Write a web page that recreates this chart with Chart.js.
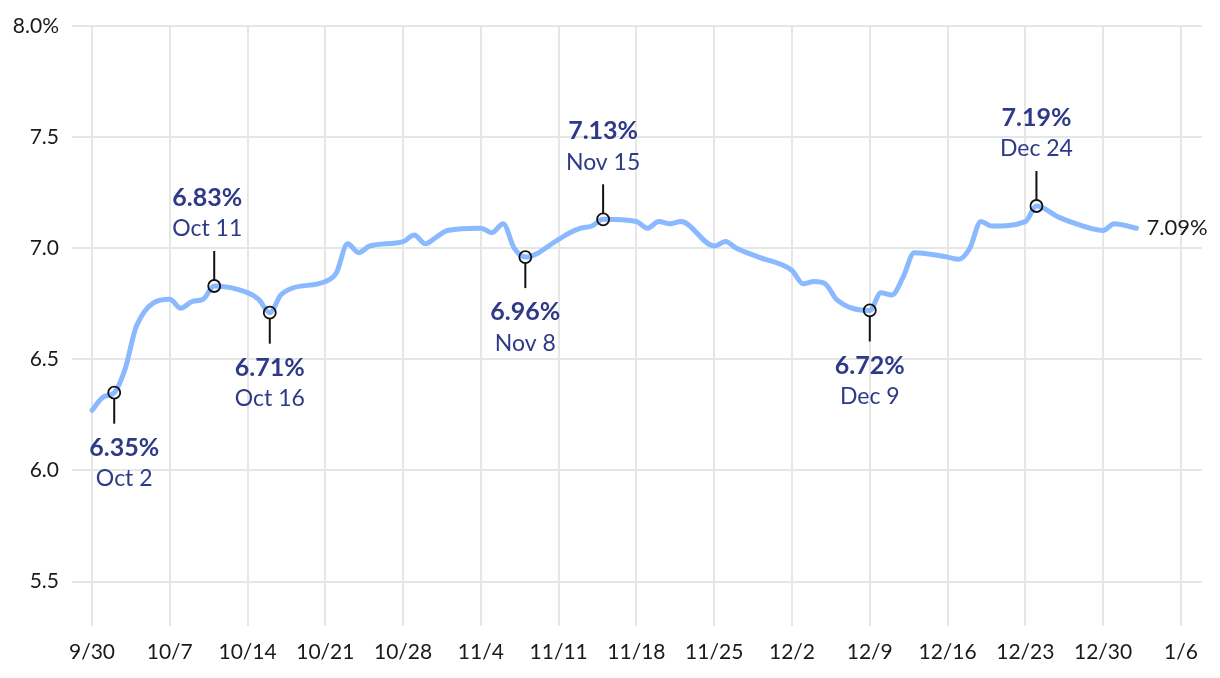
<!DOCTYPE html>
<html lang="en">
<head>
  <meta charset="UTF-8" />
  <title>30-year mortgage rate</title>
  <style>
    body {
      margin: 0;
      background: #fff;
    }
    canvas {
      display: block;
    }
  </style>
</head>
<body>
  <canvas id="rateChart" width="1220" height="678"></canvas>

  <script src="https://cdn.jsdelivr.net/npm/chart.js"></script>
  <script>
    // daily rate readings (business days only)
    const dates = [
      '2024-09-30', '2024-10-01', '2024-10-02', '2024-10-03', '2024-10-04',
      '2024-10-07', '2024-10-08', '2024-10-09', '2024-10-10', '2024-10-11',
      '2024-10-14', '2024-10-15', '2024-10-16', '2024-10-17', '2024-10-18',
      '2024-10-21', '2024-10-22', '2024-10-23', '2024-10-24', '2024-10-25',
      '2024-10-28', '2024-10-29', '2024-10-30', '2024-10-31', '2024-11-01',
      '2024-11-04', '2024-11-05', '2024-11-06', '2024-11-07', '2024-11-08',
      '2024-11-11', '2024-11-12', '2024-11-13', '2024-11-14', '2024-11-15',
      '2024-11-18', '2024-11-19', '2024-11-20', '2024-11-21', '2024-11-22',
      '2024-11-25', '2024-11-26', '2024-11-27', '2024-11-29',
      '2024-12-02', '2024-12-03', '2024-12-04', '2024-12-05', '2024-12-06',
      '2024-12-09', '2024-12-10', '2024-12-11', '2024-12-12', '2024-12-13',
      '2024-12-16', '2024-12-17', '2024-12-18', '2024-12-19', '2024-12-20',
      '2024-12-23', '2024-12-24', '2024-12-26', '2024-12-27',
      '2024-12-30', '2024-12-31', '2025-01-02'
    ];
    const rates = [
      6.27, 6.33, 6.35, 6.46, 6.65,
      6.77, 6.73, 6.76, 6.77, 6.83,
      6.80, 6.77, 6.71, 6.79, 6.82,
      6.85, 6.89, 7.02, 6.98, 7.01,
      7.03, 7.06, 7.02, 7.05, 7.08,
      7.09, 7.07, 7.11, 7.00, 6.96,
      7.04, 7.07, 7.09, 7.10, 7.13,
      7.12, 7.09, 7.12, 7.11, 7.12,
      7.01, 7.03, 7.00, 6.96,
      6.90, 6.84, 6.85, 6.84, 6.77,
      6.72, 6.80, 6.79, 6.87, 6.98,
      6.96, 6.95, 7.00, 7.12, 7.10,
      7.12, 7.19, 7.14, 7.12,
      7.08, 7.11, 7.09
    ];

    const xTickLabels = ['9/30', '10/7', '10/14', '10/21', '10/28', '11/4', '11/11', '11/18',
                         '11/25', '12/2', '12/9', '12/16', '12/23', '12/30', '1/6'];
    const yTickValues = [5.5, 6.0, 6.5, 7.0, 7.5, 8.0];
    const yTickLabels = ['5.5', '6.0', '6.5', '7.0', '7.5', '8.0%'];

    // highlighted points
    const annoDates = ['2024-10-02', '2024-10-11', '2024-10-16', '2024-11-08',
                       '2024-11-15', '2024-12-09', '2024-12-24'];
    const annoTitles = ['Oct 2', 'Oct 11', 'Oct 16', 'Nov 8', 'Nov 15', 'Dec 9', 'Dec 24'];
    const annoSide = ['below', 'above', 'below', 'below', 'above', 'below', 'above'];

    const FONT = 'Lato, "Source Sans Pro", "Noto Sans", sans-serif';
    const NAVY = '#2e3a87';
    const START = Date.UTC(2024, 8, 30);

    function dayOffset(iso) {
      const [y, m, d] = iso.split('-').map(Number);
      return Math.round((Date.UTC(y, m - 1, d) - START) / 86400000);
    }

    const points = dates.map((d, i) => ({ x: dayOffset(d), y: rates[i] }));

    // small sideways nudges so labels stay clear of the edge / the line
    const labelNudge = { '2024-10-02': 10, '2024-10-11': -7 };

    const annotations = {
      id: 'annotations',
      afterDatasetsDraw(chart) {
        const { ctx, scales: { x, y } } = chart;
        ctx.save();

        annoDates.forEach((d, i) => {
          const idx = dates.indexOf(d);
          if (idx < 0) return;
          const px = x.getPixelForValue(points[idx].x);
          const py = y.getPixelForValue(points[idx].y);
          const up = annoSide[i] === 'above';
          const r = 6;

          // stem
          ctx.strokeStyle = '#111';
          ctx.lineWidth = 2;
          ctx.beginPath();
          if (up) {
            ctx.moveTo(px, py - r);
            ctx.lineTo(px, py - 35);
          } else {
            ctx.moveTo(px, py + r);
            ctx.lineTo(px, py + 31);
          }
          ctx.stroke();

          // marker
          ctx.lineWidth = 1.8;
          ctx.beginPath();
          ctx.arc(px, py, r, 0, Math.PI * 2);
          ctx.stroke();

          // labels
          const lx = px + (labelNudge[d] || 0);
          ctx.fillStyle = NAVY;
          ctx.textAlign = 'center';
          ctx.textBaseline = 'middle';
          const valueY = up ? py - 88 : py + 55;
          const dateY = up ? py - 57 : py + 86;
          ctx.font = 'bold 25px ' + FONT;
          ctx.fillText(rates[idx].toFixed(2) + '%', lx, valueY);
          ctx.font = '23px ' + FONT;
          ctx.fillText(annoTitles[i], lx, dateY);
        });

        // value at the end of the line
        const last = points[points.length - 1];
        ctx.fillStyle = '#1a1a1a';
        ctx.textAlign = 'left';
        ctx.textBaseline = 'middle';
        ctx.font = '22px ' + FONT;
        ctx.fillText(last.y.toFixed(2) + '%', x.getPixelForValue(last.x) + 10, y.getPixelForValue(last.y));

        ctx.restore();
      }
    };

    const ctx = document.getElementById('rateChart').getContext('2d');
    new Chart(ctx, {
      type: 'line',
      data: {
        datasets: [{
          label: 'Rate',
          data: points,
          borderColor: '#8ab9ff',
          borderWidth: 5,
          borderCapStyle: 'round',
          borderJoinStyle: 'round',
          pointRadius: 0,
          cubicInterpolationMode: 'monotone',
          fill: false
        }]
      },
      options: {
        responsive: false,
        animation: false,
        layout: {
          padding: { top: 26, right: 18, left: 0, bottom: 0 }
        },
        plugins: {
          legend: { display: false },
          tooltip: { enabled: false }
        },
        scales: {
          x: {
            type: 'linear',
            min: -1.8,
            max: 99.9,
            afterBuildTicks: s => {
              s.ticks = xTickLabels.map((_, i) => ({ value: i * 7 }));
            },
            afterFit: s => { s.height = 52; },
            grid: { color: '#e6e6e6', lineWidth: 2, drawTicks: false },
            border: { display: false },
            ticks: {
              padding: 14,
              color: '#1a1a1a',
              font: { family: FONT, size: 21 },
              maxRotation: 0,
              autoSkip: false,
              callback: (v, i) => xTickLabels[i]
            }
          },
          y: {
            min: 5.3,
            max: 8.0,
            afterBuildTicks: s => {
              s.ticks = yTickValues.map(v => ({ value: v }));
            },
            afterFit: s => { s.width = 72; },
            grid: { color: '#e6e6e6', lineWidth: 2, drawTicks: false },
            border: { display: false },
            ticks: {
              padding: 13,
              color: '#1a1a1a',
              font: { family: FONT, size: 21 },
              autoSkip: false,
              callback: (v, i) => yTickLabels[i]
            }
          }
        }
      },
      plugins: [annotations]
    });
  </script>
</body>
</html>
